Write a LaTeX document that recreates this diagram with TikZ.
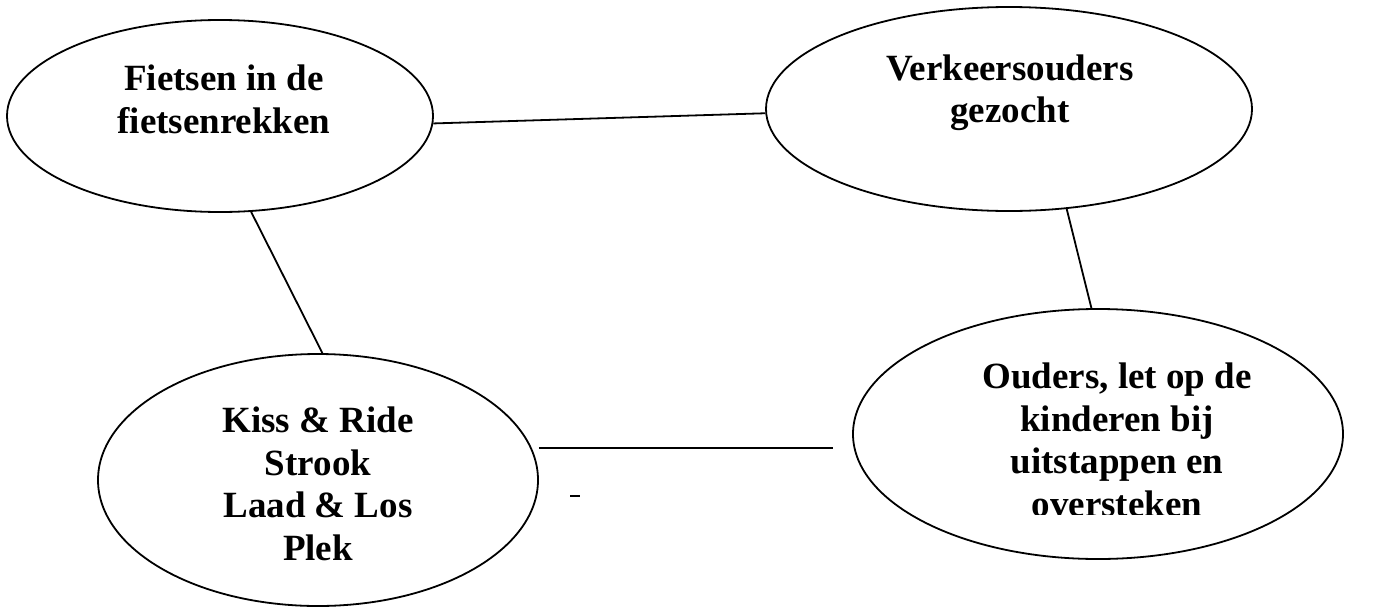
\documentclass[tikz,border=0pt]{standalone}
\usepackage{fontspec}
\setmainfont{Liberation Serif}
\usetikzlibrary{shapes.geometric}
\tikzset{
  bubble/.style={draw=black, line width=1.8pt, ellipse, inner sep=0pt},
  label/.style={align=center, font=\fontsize{37}{42.5}\selectfont\bfseries, inner sep=0pt},
  link/.style={draw=black, line width=1.8pt}
}
\begin{document}
\begin{tikzpicture}[x=1pt,y=-1pt]
\useasboundingbox (0,0) rectangle (1383,608);
% ellipses
\node[bubble, minimum width=426pt, minimum height=192pt] (e1) at (220,116) {};
\node[bubble, minimum width=486pt, minimum height=204pt] (e2) at (1009,109) {};
\node[bubble, minimum width=440pt, minimum height=252pt] (e3) at (318,480) {};
\node[bubble, minimum width=490pt, minimum height=250pt] (e4) at (1098,434) {};
% texts
\node[label] (t1) at (224,99.5) {Fietsen in de\\fietsenrekken};
\node[label] (t2) at (1010,92.8) {Verkeersouders\\gezocht};
\node[label] (t3) at (318,484) {Kiss \& Ride\\Strook\\Laad \& Los\\Plek};
\begin{scope}
\clip (900,300) rectangle (1340,514);
\node[label] (t4) at (1117,440) {Ouders, let op de\\kinderen bij\\uitstappen en\\oversteken};
\end{scope}
% connectors
\draw[link] (e1.-2.4) -- (e2.181.4);
\draw[link] (e1.-72.5) -- (e3.88.2);
\draw[link] (e2.-60.4) -- (e4.93.6);
\coordinate (hend) at (833,448);
\draw[link] (hend -| e3.east) -- (hend);
% stray dash
\draw[line width=1.6pt] (570,496) -- (580,496);
\end{tikzpicture}
\end{document}
